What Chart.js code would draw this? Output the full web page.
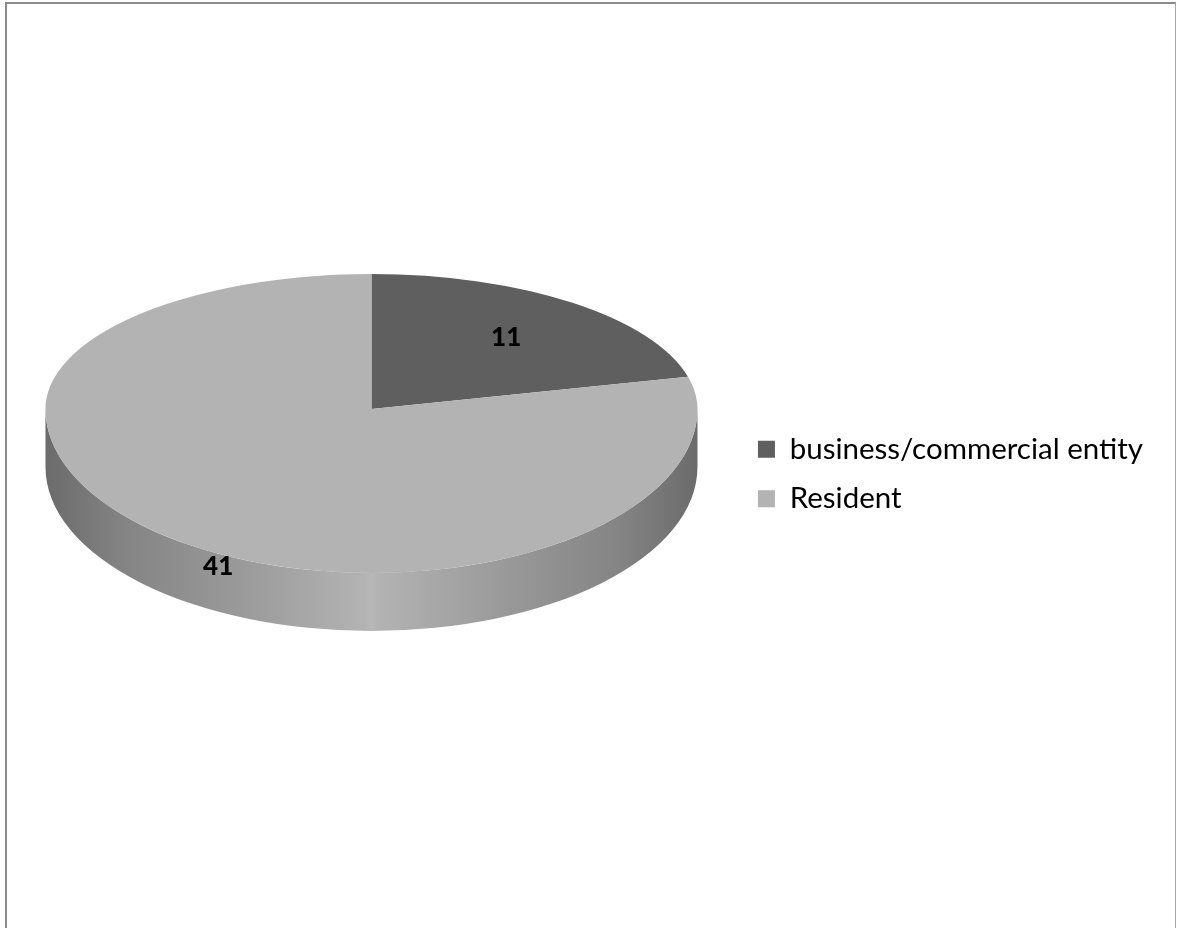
<!DOCTYPE html>
<html>
<head>
<meta charset="utf-8">
<title>Respondents</title>
<script src="https://cdn.jsdelivr.net/npm/chart.js@4/dist/chart.umd.min.js"></script>
<style>
  html, body { margin: 0; padding: 0; background: #fff; overflow: hidden; }
  #frame {
    position: absolute; left: 5px; top: 2px; width: 1168px; height: 940px;
    border-left: 2px solid #8c8c8c; border-top: 2px solid #8c8c8c; border-right: 1px solid #a6a6a6;
  }
  #wrap { position: absolute; left: 0; top: 0; width: 1177px; height: 928px; }
</style>
</head>
<body>
<div id="frame"></div>
<div id="wrap"><canvas id="pieChart"></canvas></div>
<script>
// categories and counts
const categories = ['business/commercial entity', 'Resident'];
const counts = [11, 41];
const sliceColors = ['#5f5f5f', '#b3b3b3'];

// darken / lighten a #rrggbb colour by a factor
function shade(hex, f) {
    const n = parseInt(hex.slice(1), 16);
    const ch = [(n >> 16) & 255, (n >> 8) & 255, n & 255].map(v => Math.max(0, Math.min(255, Math.round(v * f))));
    return 'rgb(' + ch.join(',') + ')';
}

// tilts the flat pie into a 3D disc: far half squeezed more than the near half,
// plus a shaded side wall below the front edge
const pie3d = {
    id: 'pie3d',
    beforeDatasetsDraw(chart, args, opts) {
        const ctx = chart.ctx;
        const arcs = chart.getDatasetMeta(0).data;
        if (!arcs.length) return;
        const cx = arcs[0].x, cy = arcs[0].y, r = arcs[0].outerRadius;
        const vy = cy - opts.lift;
        const ryNear = r * opts.nearTilt;

        // side wall (only the front half, canvas angles 0..PI, is visible)
        arcs.forEach(arc => {
            const a0 = Math.max(arc.startAngle, 0);
            const a1 = Math.min(arc.endAngle, Math.PI);
            if (a1 <= a0) return;
            const grad = ctx.createLinearGradient(cx - r, 0, cx + r, 0);
            opts.wallShade.forEach(s => grad.addColorStop(s[0], shade(arc.options.backgroundColor, s[1])));
            ctx.save();
            ctx.beginPath();
            ctx.ellipse(cx, vy, r, ryNear, 0, a0, a1);
            ctx.ellipse(cx, vy + opts.depth, r, ryNear, 0, a1, a0, true);
            ctx.closePath();
            ctx.fillStyle = grad;
            ctx.fill();
            ctx.restore();
        });

        // top face, drawn twice: far half and near half with their own tilt
        [[true, opts.farTilt], [false, opts.nearTilt]].forEach(([far, k]) => {
            ctx.save();
            ctx.beginPath();
            if (far) ctx.rect(0, 0, chart.width, vy);
            else ctx.rect(0, vy, chart.width, chart.height - vy);
            ctx.clip();
            ctx.translate(cx, vy);
            ctx.scale(1, k);
            ctx.translate(-cx, -cy);
            arcs.forEach(a => a.draw(ctx));
            ctx.restore();
        });
        return false;
    },
    afterDraw(chart, args, opts) {
        const ctx = chart.ctx;
        const arcs = chart.getDatasetMeta(0).data;
        if (!arcs.length) return;
        const cx = arcs[0].x, cy = arcs[0].y, r = arcs[0].outerRadius;
        const vy = cy - opts.lift;
        ctx.save();
        ctx.font = '900 26px Lato';
        ctx.fillStyle = '#000';
        ctx.textAlign = 'center';
        ctx.textBaseline = 'middle';
        arcs.forEach((arc, i) => {
            const p = opts.labelPlace[i];
            const ang = (arc.startAngle + arc.endAngle) / 2 + p.turn * Math.PI / 180;
            const dx = Math.cos(ang) * r * p.radius;
            const dy = Math.sin(ang) * r * p.radius;
            const y = vy + dy * (dy < 0 ? opts.farTilt : opts.nearTilt);
            ctx.fillText(String(chart.data.datasets[0].data[i]), cx + dx, y);
        });
        ctx.restore();
    }
};

new Chart(document.getElementById('pieChart'), {
    type: 'pie',
    data: {
        labels: categories,
        datasets: [{
            data: counts,
            backgroundColor: sliceColors,
            borderWidth: 0
        }]
    },
    options: {
        responsive: true,
        maintainAspectRatio: false,
        animation: false,
        events: [],
        layout: { padding: { left: 5, top: 148, bottom: 128, right: 24 } },
        plugins: {
            tooltip: { enabled: false },
            legend: {
                position: 'right',
                align: 'center',
                labels: {
                    boxWidth: 17,
                    boxHeight: 17,
                    padding: 20,
                    color: '#000',
                    font: { family: 'Lato', size: 29.5 }
                }
            },
            pie3d: {
                farTilt: 0.414,
                nearTilt: 0.503,
                depth: 58,
                lift: 65,
                wallShade: [[0, 0.6], [0.12, 0.74], [0.3, 0.86], [0.49, 1.0], [0.5, 1.03], [0.51, 1.0], [0.7, 0.86], [0.88, 0.74], [1, 0.6]],
                labelPlace: [{ radius: 0.67, turn: 0 }, { radius: 1.07, turn: -12 }]
            }
        }
    },
    plugins: [pie3d]
});
</script>
</body>
</html>
